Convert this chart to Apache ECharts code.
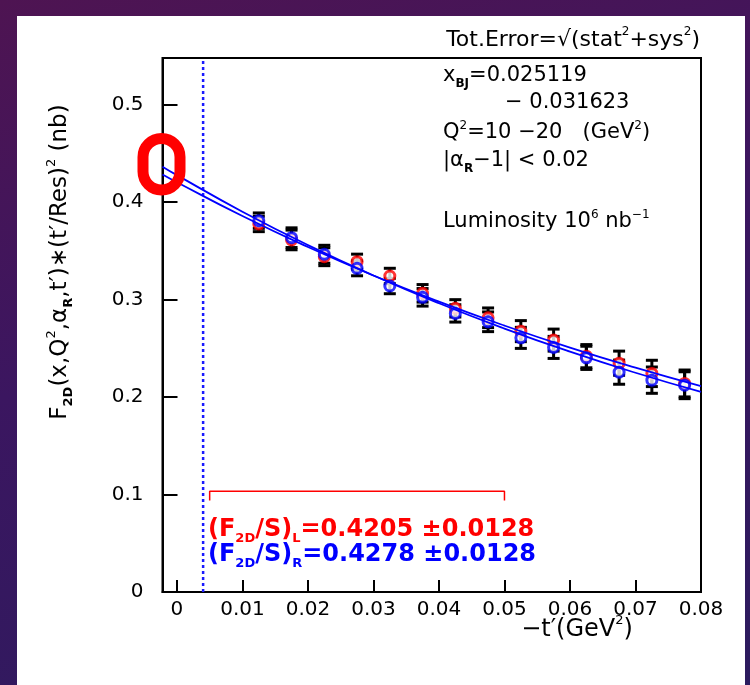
<!DOCTYPE html>
<html>
<head>
<meta charset="utf-8">
<script src="https://cdn.jsdelivr.net/npm/echarts@6/dist/echarts.min.js"></script>
<style>
  html, body { margin: 0; padding: 0; width: 750px; height: 685px; overflow: hidden;
    background: linear-gradient(165deg, #4e1452 0%, #3b1660 45%, #2c1b5e 100%); }
  #panel { position: absolute; left: 17px; top: 16px; width: 728px; height: 669px; background: #fff; }
  #chart { position: absolute; left: 0; top: 0; width: 750px; height: 685px; }
</style>
</head>
<body>
<div id="panel"></div>
<div id="chart"></div>
<script>
// -t' bin centres (GeV^2)
const tValues = [0.0125, 0.0175, 0.0225, 0.0275, 0.0325, 0.0375, 0.0425,
                 0.0475, 0.0525, 0.0575, 0.0625, 0.0675, 0.0725, 0.0775];
// F2D * (t'/Res)^2 in nb, left- and right-arm extractions
const valuesL = [0.3777, 0.3613, 0.3441, 0.3390, 0.3243, 0.3065, 0.2911,
                 0.2814, 0.2677, 0.2585, 0.2420, 0.2348, 0.2243, 0.2140];
const valuesR = [0.3811, 0.3636, 0.3466, 0.3322, 0.3140, 0.3024, 0.2859,
                 0.2773, 0.2608, 0.2510, 0.2403, 0.2256, 0.2174, 0.2122];
// total error sqrt(stat^2 + sys^2)
const totErr  = [0.0079, 0.0101, 0.0092, 0.0077, 0.0079, 0.0090, 0.0089,
                 0.0101, 0.0108, 0.0113, 0.0119, 0.0124, 0.0135, 0.0138];
// fitted curves, extrapolated to t' = 0
const fitT = [-0.0022, 0, 0.01, 0.02, 0.03, 0.04, 0.05, 0.06, 0.07, 0.08];
const fitL = [0.4285, 0.4205, 0.3858, 0.3540, 0.3248, 0.2980, 0.2734, 0.2508, 0.2302, 0.2112];
const fitR = [0.4365, 0.4278, 0.3903, 0.3560, 0.3248, 0.2963, 0.2703, 0.2466, 0.2250, 0.2053];
// fit window and t' cut
const fitRange = [0.005, 0.05];
const tCut = 0.004;
// axis ranges and ticks
const xRange = [-0.0022, 0.08];
const yRange = [0, 0.548];
const xTicks = [0, 0.01, 0.02, 0.03, 0.04, 0.05, 0.06, 0.07, 0.08];
const yTicks = [0, 0.1, 0.2, 0.3, 0.4, 0.5];
const interceptL = '0.4205', interceptR = '0.4278', interceptErr = '0.0128';

const FONT = 'DejaVu Sans';
const RED = '#ff0000', BLUE = '#0000ff';

function richSet(size, color, weight) {
  return {
    b: { fontSize: size, fill: color, fontWeight: weight, fontFamily: FONT, lineHeight: Math.round(size * 1.3) },
    s: { fontSize: Math.round(size * 0.55), fill: color, fontWeight: 'bold', fontFamily: FONT,
         verticalAlign: 'bottom', lineHeight: Math.round(size * 0.6) },
    p: { fontSize: Math.round(size * 0.55), fill: color, fontWeight: weight, fontFamily: FONT,
         verticalAlign: 'top', lineHeight: Math.round(size * 0.6) }
  };
}

function errorBarData(values) {
  return tValues.map((t, i) => [t, values[i] - totErr[i], values[i] + totErr[i]]);
}

function renderErrorBar(params, api) {
  const x = api.value(0);
  const lo = api.coord([x, api.value(1)]);
  const hi = api.coord([x, api.value(2)]);
  const half = 6;
  const st = { stroke: '#000', lineWidth: 3 };
  return {
    type: 'group',
    children: [
      { type: 'line', shape: { x1: lo[0], y1: lo[1], x2: hi[0], y2: hi[1] }, style: st },
      { type: 'line', shape: { x1: lo[0] - half, y1: lo[1], x2: lo[0] + half, y2: lo[1] }, style: st },
      { type: 'line', shape: { x1: hi[0] - half, y1: hi[1], x2: hi[0] + half, y2: hi[1] }, style: st }
    ]
  };
}

const zip = (a, b) => a.map((v, i) => [v, b[i]]);

const chart = echarts.init(document.getElementById('chart'), null, { renderer: 'canvas' });

const option = {
  backgroundColor: 'transparent',
  animation: false,
  textStyle: { fontFamily: FONT },
  grid: { left: 162.5, right: 49, top: 58, bottom: 93, show: true,
          borderColor: '#000', borderWidth: 2, backgroundColor: 'transparent' },
  xAxis: {
    type: 'value', min: xRange[0], max: xRange[1],
    axisLine: { show: true, onZero: false, lineStyle: { color: '#000', width: 2 } },
    axisTick: { show: true, inside: true, length: 12, customValues: xTicks,
                lineStyle: { color: '#000', width: 2 } },
    axisLabel: { customValues: xTicks, margin: 8, fontSize: 20, color: '#000', fontFamily: FONT,
                 formatter: v => (v === 0 ? '0' : v.toFixed(2)) },
    splitLine: { show: false }
  },
  yAxis: {
    type: 'value', min: yRange[0], max: yRange[1],
    axisLine: { show: true, onZero: false, lineStyle: { color: '#000', width: 2 } },
    axisTick: { show: true, inside: true, length: 15, customValues: yTicks,
                lineStyle: { color: '#000', width: 2 } },
    axisLabel: { customValues: yTicks, margin: 19, fontSize: 20, color: '#000', fontFamily: FONT,
                 formatter: v => (v === 0 ? '0' : v.toFixed(1)) },
    splitLine: { show: false }
  },
  series: [
    { type: 'line', name: 'cut', data: [[tCut, yRange[0]], [tCut, yRange[1]]], showSymbol: false,
      lineStyle: { color: '#1a1aff', type: [3, 3], width: 2.5 }, z: 1, silent: true },
    { type: 'custom', name: 'errL', data: errorBarData(valuesL), renderItem: renderErrorBar,
      encode: { x: 0, y: [1, 2] }, z: 2, silent: true },
    { type: 'custom', name: 'errR', data: errorBarData(valuesR), renderItem: renderErrorBar,
      encode: { x: 0, y: [1, 2] }, z: 2, silent: true },
    { type: 'scatter', name: 'L', data: zip(tValues, valuesL), symbol: 'circle', symbolSize: 10,
      itemStyle: { color: '#fff', borderColor: RED, borderWidth: 3 }, z: 3 },
    { type: 'scatter', name: 'R', data: zip(tValues, valuesR), symbol: 'circle', symbolSize: 10,
      itemStyle: { color: '#fff', borderColor: BLUE, borderWidth: 3 }, z: 4 },
    { type: 'line', name: 'fitL', data: zip(fitT, fitL), smooth: true, showSymbol: false,
      lineStyle: { color: BLUE, width: 1.8 }, z: 5 },
    { type: 'line', name: 'fitR', data: zip(fitT, fitR), smooth: true, showSymbol: false,
      lineStyle: { color: BLUE, width: 1.8 }, z: 5 },
    { type: 'line', name: 'range', showSymbol: false, z: 5,
      data: [[fitRange[0], 0.094], [fitRange[0], 0.1033], [fitRange[1], 0.1033], [fitRange[1], 0.094]],
      lineStyle: { color: RED, width: 1.5 } }
  ],
  graphic: [
    { type: 'text', x: 700, y: 40, z: 50,
      style: { text: '{b|Tot.Error=√(stat}{p|2}{b|+sys}{p|2}{b|)}', rich: richSet(22, '#000', 'normal'),
               align: 'right', verticalAlign: 'middle' } },
    { type: 'text', x: 443, y: 76, z: 50,
      style: { text: '{b|x}{s|BJ}{b|=0.025119}', rich: richSet(21, '#000', 'normal'),
               align: 'left', verticalAlign: 'middle' } },
    { type: 'text', x: 505, y: 103, z: 50,
      style: { text: '{b|− 0.031623}', rich: richSet(21, '#000', 'normal'),
               align: 'left', verticalAlign: 'middle' } },
    { type: 'text', x: 443, y: 133, z: 50,
      style: { text: '{b|Q}{p|2}{b|=10 −20   (GeV}{p|2}{b|)}', rich: richSet(21, '#000', 'normal'),
               align: 'left', verticalAlign: 'middle' } },
    { type: 'text', x: 443, y: 161, z: 50,
      style: { text: '{b||α}{s|R}{b|−1| < 0.02}', rich: richSet(21, '#000', 'normal'),
               align: 'left', verticalAlign: 'middle' } },
    { type: 'text', x: 443, y: 222, z: 50,
      style: { text: '{b|Luminosity 10}{p|6}{b| nb}{p|−1}', rich: richSet(21, '#000', 'normal'),
               align: 'left', verticalAlign: 'middle' } },
    { type: 'text', x: 208, y: 530, z: 50,
      style: { text: '{b|(F}{s|2D}{b|/S)}{s|L}{b|=' + interceptL + ' ±' + interceptErr + '}',
               rich: richSet(24, RED, 'bold'), align: 'left', verticalAlign: 'middle' } },
    { type: 'text', x: 208, y: 555, z: 50,
      style: { text: '{b|(F}{s|2D}{b|/S)}{s|R}{b|=' + interceptR + ' ±' + interceptErr + '}',
               rich: richSet(24, BLUE, 'bold'), align: 'left', verticalAlign: 'middle' } },
    { type: 'text', x: 577, y: 630, z: 50,
      style: { text: '{b|−t′(GeV}{p|2}{b|)}', rich: richSet(24, '#000', 'normal'),
               align: 'center', verticalAlign: 'middle' } },
    { type: 'text', x: 60, y: 262, rotation: Math.PI / 2, z: 50,
      style: { text: '{b|F}{s|2D}{b|(x,Q}{p|2}{b|,α}{s|R}{b|,t′)∗(t′/Res)}{p|2}{b| (nb)}',
               rich: richSet(23, '#000', 'normal'), align: 'center', verticalAlign: 'middle' } },
    { type: 'rect', z: 60, silent: true,
      shape: { x: 143, y: 138.5, width: 37, height: 51.5, r: 18.5 },
      style: { fill: 'none', stroke: RED, lineWidth: 11 } }
  ]
};

chart.setOption(option);
</script>
</body>
</html>
